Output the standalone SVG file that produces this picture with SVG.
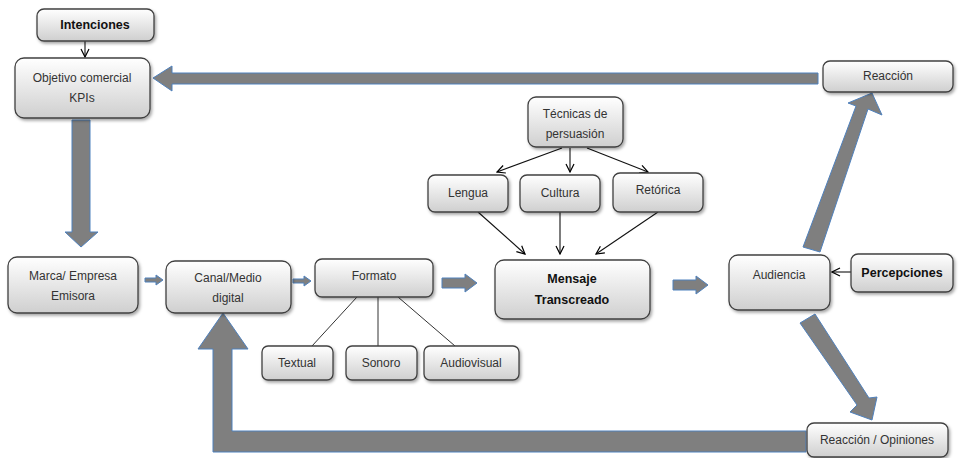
<svg xmlns="http://www.w3.org/2000/svg" width="959" height="458" viewBox="0 0 959 458">
<defs>
<linearGradient id="g" x1="0" y1="0" x2="0" y2="1">
<stop offset="0" stop-color="#ffffff"/>
<stop offset="1" stop-color="#cfcfcf"/>
</linearGradient>
<filter id="sh" x="-10%" y="-10%" width="130%" height="140%">
<feDropShadow dx="1.5" dy="2" stdDeviation="1.5" flood-color="#000" flood-opacity="0.35"/>
</filter>
<marker id="ah" viewBox="0 0 10 10" refX="9" refY="5" markerWidth="10" markerHeight="10" markerUnits="userSpaceOnUse" orient="auto">
<path d="M1,1 L9,5 L1,9" fill="none" stroke="#000" stroke-width="1.2"/>
</marker>
<style>
.b{fill:url(#g);stroke:#404040;stroke-width:1.3;filter:url(#sh)}
.t{font-family:"Liberation Sans",Arial,sans-serif;font-size:12px;fill:#333;text-anchor:middle}
.tb{font-family:"Liberation Sans",Arial,sans-serif;font-size:12.5px;font-weight:bold;fill:#111;text-anchor:middle}
.big{fill:#7f7f7f;stroke:#4f81bd;stroke-width:1}
.ln{stroke:#333;stroke-width:1;fill:none}
.la{stroke:#111;stroke-width:1.1;fill:none;marker-end:url(#ah)}
</style>
</defs>

<g id="connectors">
<!-- big arrows -->
<path class="big" d="M818,73 L172,73 L172,66 L153,78 L172,91 L172,84 L818,84 Z"/>
<path class="big" d="M72,120 L90,120 L90,232 L98,232 L81,247 L65,232 L72,232 Z"/>
<path class="big" d="M806,431 L232,431 L232,349 L248,349 L223,313 L198,349 L213,349 L213,452 L806,452 Z"/>
<path class="big" d="M803,247 L820,252 L868,109 L882,115 L872,93 L848,103 L856,106 Z"/>
<path class="big" d="M815,314 L800,323 L857,405 L850,412 L872,420 L877,397 L869,398 Z"/>
<!-- small block arrows -->
<path class="big" d="M145,278 L156,278 L156,275 L163,280 L156,285 L156,282 L145,282 Z"/>
<path class="big" d="M293,279 L304,279 L304,276 L311,281 L304,286 L304,283 L293,283 Z"/>
<path class="big" d="M442,278 L465,278 L465,274 L477,283 L465,292 L465,288 L442,288 Z"/>
<path class="big" d="M673,280 L696,280 L696,276 L708,285 L696,294 L696,290 L673,290 Z"/>
<!-- thin arrows -->
<line class="la" x1="85" y1="41" x2="85" y2="57"/>
<line class="la" x1="562" y1="148" x2="497" y2="172"/>
<line class="la" x1="570" y1="148" x2="570" y2="172"/>
<line class="la" x1="587" y1="148" x2="648" y2="172"/>
<line class="la" x1="478" y1="212" x2="525" y2="254"/>
<line class="la" x1="560" y1="212" x2="560" y2="254"/>
<line class="la" x1="658" y1="212" x2="596" y2="254"/>
<line class="la" x1="851" y1="272" x2="832" y2="272"/>
<!-- plain lines -->
<line class="ln" x1="357" y1="297" x2="312" y2="346"/>
<line class="ln" x1="378" y1="297" x2="378" y2="346"/>
<line class="ln" x1="398" y1="297" x2="455" y2="346"/>
</g>

<g id="intenciones"><rect class="b" x="37" y="9" width="117" height="32" rx="7"/><text class="tb" x="95" y="29">Intenciones</text></g>
<g id="objetivo"><rect class="b" x="15" y="58" width="135" height="60" rx="9"/><text class="t" x="82" y="82">Objetivo comercial</text><text class="t" x="82" y="102">KPIs</text></g>
<g id="marca"><rect class="b" x="8" y="257" width="130" height="56" rx="9"/><text class="t" x="73" y="280">Marca/ Empresa</text><text class="t" x="73" y="300">Emisora</text></g>
<g id="canal"><rect class="b" x="166" y="261" width="125" height="52" rx="9"/><text class="t" x="228" y="282">Canal/Medio</text><text class="t" x="228" y="302">digital</text></g>
<g id="formato"><rect class="b" x="315" y="259" width="118" height="38" rx="7"/><text class="t" x="374" y="280">Formato</text></g>
<g id="textual"><rect class="b" x="262" y="346" width="71" height="34" rx="6"/><text class="t" x="297" y="367">Textual</text></g>
<g id="sonoro"><rect class="b" x="346" y="346" width="71" height="34" rx="6"/><text class="t" x="381" y="367">Sonoro</text></g>
<g id="audiovisual"><rect class="b" x="424" y="346" width="95" height="34" rx="6"/><text class="t" x="471" y="367">Audiovisual</text></g>
<g id="tecnicas"><rect class="b" x="528" y="97" width="95" height="50" rx="8"/><text class="t" x="575" y="118">Técnicas de</text><text class="t" x="575" y="138">persuasión</text></g>
<g id="lengua"><rect class="b" x="428" y="175" width="80" height="37" rx="7"/><text class="t" x="468" y="197">Lengua</text></g>
<g id="cultura"><rect class="b" x="520" y="175" width="80" height="37" rx="7"/><text class="t" x="560" y="197">Cultura</text></g>
<g id="retorica"><rect class="b" x="613" y="173" width="90" height="39" rx="7"/><text class="t" x="658" y="194">Retórica</text></g>
<g id="mensaje"><rect class="b" x="495" y="260" width="155" height="59" rx="9"/><text class="tb" x="572" y="283">Mensaje</text><text class="tb" x="572" y="304">Transcreado</text></g>
<g id="audiencia"><rect class="b" x="729" y="255" width="101" height="55" rx="9"/><text class="t" x="779" y="279">Audiencia</text></g>
<g id="percepciones"><rect class="b" x="851" y="254" width="102" height="38" rx="7"/><text class="tb" x="902" y="277">Percepciones</text></g>
<g id="reaccion"><rect class="b" x="823" y="61" width="130" height="31" rx="7"/><text class="t" x="888" y="80">Reacción</text></g>
<g id="reaccion-opiniones"><rect class="b" x="807" y="423" width="141" height="34" rx="7"/><text class="t" x="877" y="444">Reacción / Opiniones</text></g>
</svg>
